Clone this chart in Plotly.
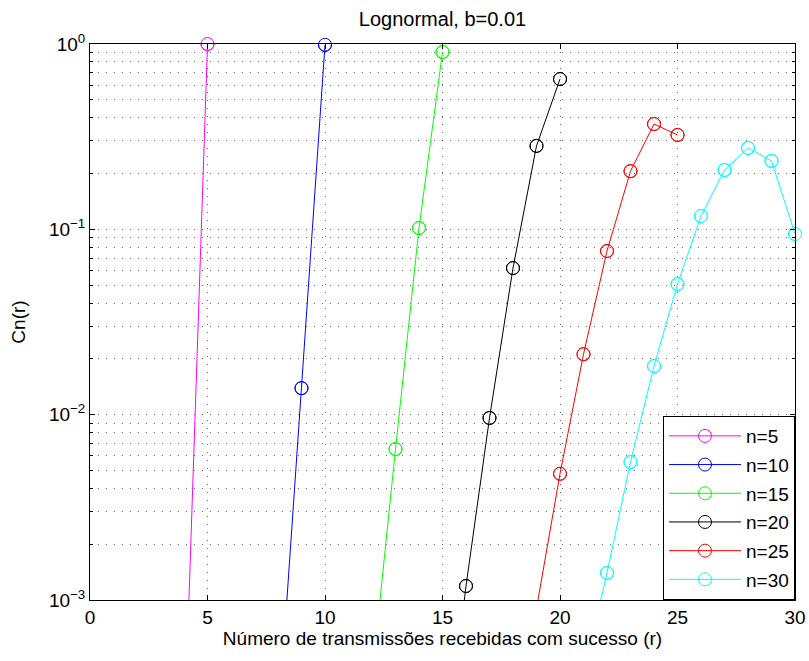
import plotly.graph_objects as go

title = "Lognormal, b=0.01"
x_label = "Número de transmissões recebidas com sucesso (r)"
y_label = "Cn(r)"

names = ["n=5", "n=10", "n=15", "n=20", "n=25", "n=30"]
colors = ["#ff00ff", "#0000ff", "#00ff00", "#000000", "#ff0000", "#00ffff"]

r5 = [4, 5]
c5 = [1.6e-4, 1.0]
r10 = [8, 9, 10]
c10 = [2.0e-4, 0.0139, 0.99]
r15 = [12, 13, 14, 15]
c15 = [3.8e-4, 0.00652, 0.1016, 0.905]
r20 = [15, 16, 17, 18, 19, 20]
c20 = [1.0e-4, 0.00119, 0.0096, 0.0618, 0.282, 0.647]
r25 = [19, 20, 21, 22, 23, 24, 25]
c25 = [9.0e-4, 0.0048, 0.0212, 0.0764, 0.206, 0.37, 0.323]
r30 = [21, 22, 23, 24, 25, 26, 27, 28, 29, 30]
c30 = [3.9e-4, 0.0014, 0.00555, 0.0183, 0.0507, 0.118, 0.209, 0.275, 0.234, 0.0944]

xs = [r5, r10, r15, r20, r25, r30]
ys = [c5, c10, c15, c20, c25, c30]

x_ticks = [0, 5, 10, 15, 20, 25, 30]
y_ticks = [1e-3, 1e-2, 1e-1, 1e0]
y_ticktext = ["10<sup>−3</sup>", "10<sup>−2</sup>", "10<sup>−1</sup>", "10<sup>0</sup>"]
y_minor = [m * d for d in (1e-3, 1e-2, 1e-1) for m in range(2, 10)]

fig = go.Figure()
for name, col, xv, yv in zip(names, colors, xs, ys):
    fig.add_trace(go.Scatter(
        x=xv, y=yv, mode="lines+markers", name=name,
        line=dict(color=col, width=1),
        marker=dict(symbol="circle-open", size=13, color=col, line=dict(width=1, color=col)),
        legendgroup=name, cliponaxis=True,
    ))
    vx = [a for a, b in zip(xv, yv) if b >= 1e-3]
    vy = [b for b in yv if b >= 1e-3]
    fig.add_trace(go.Scatter(
        x=vx, y=vy, mode="markers", showlegend=False, legendgroup=name,
        marker=dict(symbol="circle-open", size=13, color=col, line=dict(width=1, color=col)),
        cliponaxis=False, hoverinfo="skip",
    ))

gcol = "rgba(0,0,0,0.6)"
gdash = "1px,7px"
fig.update_layout(
    width=809, height=661,
    margin=dict(l=90, r=14, t=44, b=61, autoexpand=False),
    paper_bgcolor="white", plot_bgcolor="white",
    font=dict(family="Liberation Sans, Arial, sans-serif", size=19, color="black"),
    title=dict(text=title, x=0.5, xref="paper", xanchor="center", y=1 - 19 / 661, yanchor="middle",
               font=dict(size=20)),
    showlegend=True,
    legend=dict(x=1.0, y=0.0, xanchor="right", yanchor="bottom", bgcolor="white",
                bordercolor="black", borderwidth=1, font=dict(size=19),
                itemwidth=72, tracegroupgap=1),
)
fig.update_xaxes(
    range=[0, 30], tickvals=x_ticks, ticks="inside", ticklen=5, tickcolor="black",
    showline=True, linecolor="black", linewidth=1, mirror="ticks", automargin=False,
    showgrid=True, zeroline=False, gridcolor=gcol, gridwidth=1, griddash=gdash,
    title=dict(text=x_label, font=dict(size=19), standoff=3),
)
fig.update_yaxes(
    type="log", range=[-3, 0], tickvals=y_ticks, ticktext=y_ticktext,
    ticks="inside", ticklen=5, tickcolor="black", automargin=False,
    showline=True, linecolor="black", linewidth=1, mirror="ticks",
    showgrid=True, zeroline=False, gridcolor=gcol, gridwidth=1, griddash=gdash,
    minor=dict(tickvals=y_minor, ticks="inside", ticklen=3, tickcolor="black", showgrid=True,
               gridcolor=gcol, gridwidth=1, griddash=gdash),
    title=dict(text=y_label, font=dict(size=19), standoff=18),
)

fig.write_html("out.html")
